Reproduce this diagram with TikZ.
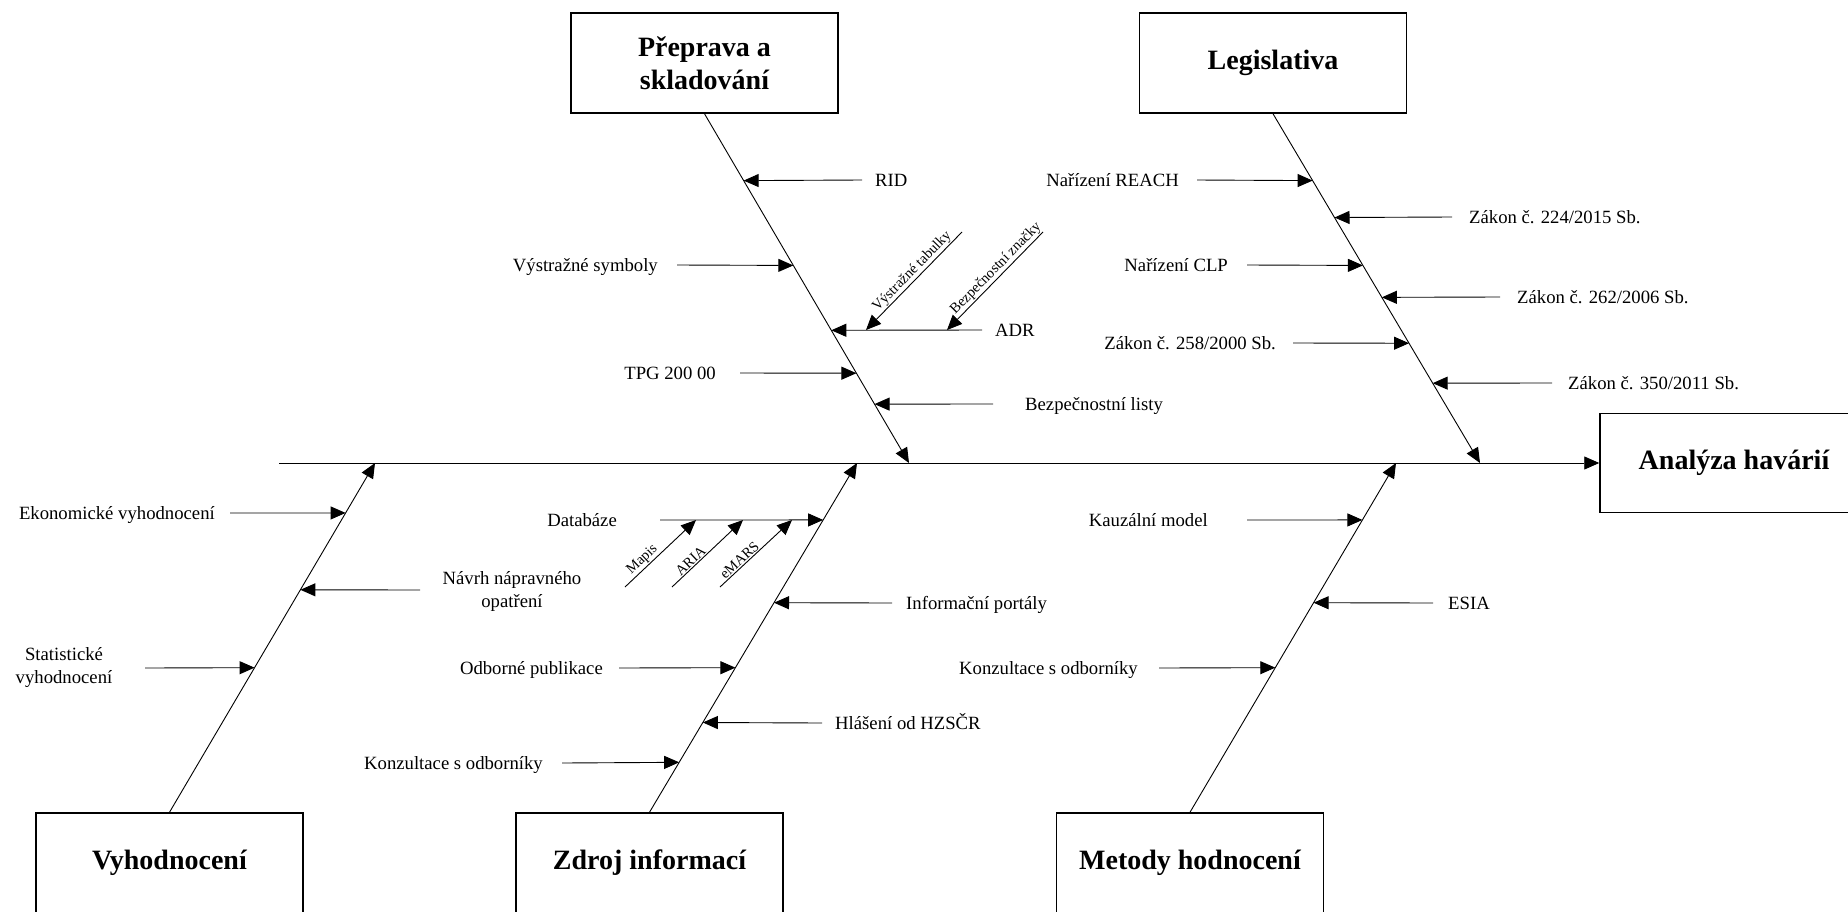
\documentclass[tikz,border=0pt]{standalone}
\usepackage{fontspec}
\setmainfont{Liberation Serif}
\usetikzlibrary{arrows.meta,calc}
\begin{document}
\begin{tikzpicture}[x=1pt,y=-1pt,
  arr/.style={-{Triangle[length=15pt,width=13pt]}, line width=0.9pt},
  cat/.style={draw, line width=1.5pt, minimum width=267pt, minimum height=100pt, inner sep=0pt, align=center, font=\fontsize{28}{33}\selectfont\bfseries},
  lbl/.style={inner sep=0pt, align=center, font=\fontsize{18.7}{23}\selectfont},
  sublbl/.style={inner sep=1pt, font=\fontsize{14.5}{16}\selectfont}
]
\useasboundingbox (0,0) rectangle (1848,911);
\clip (0,0) rectangle (1848,911);

% category boxes
\node[cat] (prep) at (704.5,63) {Přeprava a\\skladování};
\node[cat] (leg) at (1273,63) {Legislativa};
\node[cat, minimum width=268pt, minimum height=99pt] (ana) at (1734,463) {Analýza havárií};
\node[cat] (vyh) at (169.5,863) {Vyhodnocení};
\node[cat] (zdr) at (649.5,863) {Zdroj informací};
\node[cat] (met) at (1190,863) {Metody hodnocení};

% main line
\coordinate (mstart) at (279,463);
\draw[arr] (mstart) -- (ana.west);

% spine ends on the main line
\coordinate (pe) at (909,463);
\coordinate (le) at (1480,463);
\coordinate (ve) at (375,463);
\coordinate (ze) at (857,463);
\coordinate (me) at (1396,463);
\draw[arr] (prep.south) -- (pe);
\draw[arr] (leg.south) -- (le);
\draw[arr] (vyh.north) -- (ve);
\draw[arr] (zdr.north) -- (ze);
\draw[arr] (met.north) -- (me);

% points on the spines
\path (prep.south) -- (pe) coordinate[pos=0.1914] (p1) coordinate[pos=0.4343] (p2)
  coordinate[pos=0.62] (p3) coordinate[pos=0.7429] (p4) coordinate[pos=0.8314] (p5);
\path (leg.south) -- (le) coordinate[pos=0.1914] (l1) coordinate[pos=0.2971] (l2)
  coordinate[pos=0.4343] (l3) coordinate[pos=0.5257] (l4) coordinate[pos=0.6571] (l5)
  coordinate[pos=0.7714] (l6);
\path (vyh.north) -- (ve) coordinate[pos=0.857] (v1) coordinate[pos=0.637] (v2)
  coordinate[pos=0.414] (v3);
\path (zdr.north) -- (ze) coordinate[pos=0.837] (z1) coordinate[pos=0.6] (z2)
  coordinate[pos=0.414] (z3) coordinate[pos=0.257] (z4) coordinate[pos=0.143] (z5);
\path (met.north) -- (me) coordinate[pos=0.837] (m1) coordinate[pos=0.6] (m2)
  coordinate[pos=0.414] (m3);

% --- Preprava a skladovani
\node[lbl, anchor=base west] (rid) at (875,186) {RID};
\coordinate (ridt) at (862,180);
\draw[arr] (ridt) -- (p1);
\node[lbl, anchor=base east] (vsym) at (658,271) {Výstražné symboly};
\coordinate (vsymt) at (677,265);
\draw[arr] (vsymt) -- (p2);
\node[lbl, anchor=base west] (adr) at (995,336) {ADR};
\coordinate (adrt) at (982,330);
\draw[arr] (adrt) -- (p3);
\coordinate (adr1) at (866,330);
\coordinate (adr2) at (947,330);
\coordinate (vtabt) at (962,232);
\coordinate (bzt) at (1043,232);
\draw[arr] (vtabt) -- (adr1) node[pos=0.46, sloped, above, sublbl] (vtab) {Výstražné tabulky};
\draw[arr] (bzt) -- (adr2) node[pos=0.43, sloped, above, sublbl] (bz) {Bezpečnostní značky};
\node[lbl, anchor=base east] (tpg) at (716,379) {TPG 200 00};
\coordinate (tpgt) at (740,373);
\draw[arr] (tpgt) -- (p4);
\node[lbl, anchor=base west] (bl) at (1025,410) {Bezpečnostní listy};
\coordinate (blt) at (993,404);
\draw[arr] (blt) -- (p5);

% --- Legislativa
\node[lbl, anchor=base east] (reach) at (1179,186) {Nařízení REACH};
\coordinate (reacht) at (1197,180);
\draw[arr] (reacht) -- (l1);
\node[lbl, anchor=base west] (z224) at (1469,223) {Zákon č. 224/2015 Sb.};
\coordinate (z224t) at (1452,217);
\draw[arr] (z224t) -- (l2);
\node[lbl, anchor=base east] (clp) at (1228,271) {Nařízení CLP};
\coordinate (clpt) at (1247,265);
\draw[arr] (clpt) -- (l3);
\node[lbl, anchor=base west] (z262) at (1517,303) {Zákon č. 262/2006 Sb.};
\coordinate (z262t) at (1500,297);
\draw[arr] (z262t) -- (l4);
\node[lbl, anchor=base east] (z258) at (1276,349) {Zákon č. 258/2000 Sb.};
\coordinate (z258t) at (1293,343);
\draw[arr] (z258t) -- (l5);
\node[lbl, anchor=base west] (z350) at (1568,389) {Zákon č. 350/2011 Sb.};
\coordinate (z350t) at (1552,383);
\draw[arr] (z350t) -- (l6);

% --- Vyhodnoceni
\node[lbl, anchor=base east] (ekon) at (215,519) {Ekonomické vyhodnocení};
\coordinate (ekont) at (230,513);
\draw[arr] (ekont) -- (v1);
\node[lbl] (navrh) at (512,591) {Návrh nápravného\\opatření};
\coordinate (navrht) at (420,590);
\draw[arr] (navrht) -- (v2);
\node[lbl] (stat) at (64,668) {Statistické\\vyhodnocení};
\coordinate (statt) at (145,668);
\draw[arr] (statt) -- (v3);

% --- Zdroj informaci
\node[lbl, anchor=base east] (db) at (617,526) {Databáze};
\coordinate (dbt) at (660,520);
\draw[arr] (dbt) -- (z1);
\coordinate (db1) at (696,520);
\coordinate (db2) at (743,520);
\coordinate (db3) at (792,520);
\coordinate (mapt) at (625,587);
\coordinate (ariat) at (672,587);
\coordinate (emat) at (720,587);
\draw[arr] (mapt) -- (db1) node[pos=0.32, sloped, above, sublbl] (mapis) {Mapis};
\draw[arr] (ariat) -- (db2) node[pos=0.32, sloped, above, sublbl] (aria) {ARIA};
\draw[arr] (emat) -- (db3) node[pos=0.33, sloped, above, sublbl] (emars) {eMARS};
\node[lbl, anchor=base west] (info) at (906,609) {Informační portály};
\coordinate (infot) at (892,603);
\draw[arr] (infot) -- (z2);
\node[lbl, anchor=base east] (odb) at (603,674) {Odborné publikace};
\coordinate (odbt) at (619,668);
\draw[arr] (odbt) -- (z3);
\node[lbl, anchor=base west] (hzs) at (835,729) {Hlášení od HZSČR};
\coordinate (hzst) at (822,723);
\draw[arr] (hzst) -- (z4);
\node[lbl, anchor=base east] (konz1) at (543,769) {Konzultace s odborníky};
\coordinate (konz1t) at (562,763);
\draw[arr] (konz1t) -- (z5);

% --- Metody hodnoceni
\node[lbl, anchor=base east] (kauz) at (1208,526) {Kauzální model};
\coordinate (kauzt) at (1247,520);
\draw[arr] (kauzt) -- (m1);
\node[lbl, anchor=base west] (esia) at (1448,609) {ESIA};
\coordinate (esiat) at (1433,603);
\draw[arr] (esiat) -- (m2);
\node[lbl, anchor=base east] (konz2) at (1138,674) {Konzultace s odborníky};
\coordinate (konz2t) at (1159,668);
\draw[arr] (konz2t) -- (m3);
\end{tikzpicture}
\end{document}
